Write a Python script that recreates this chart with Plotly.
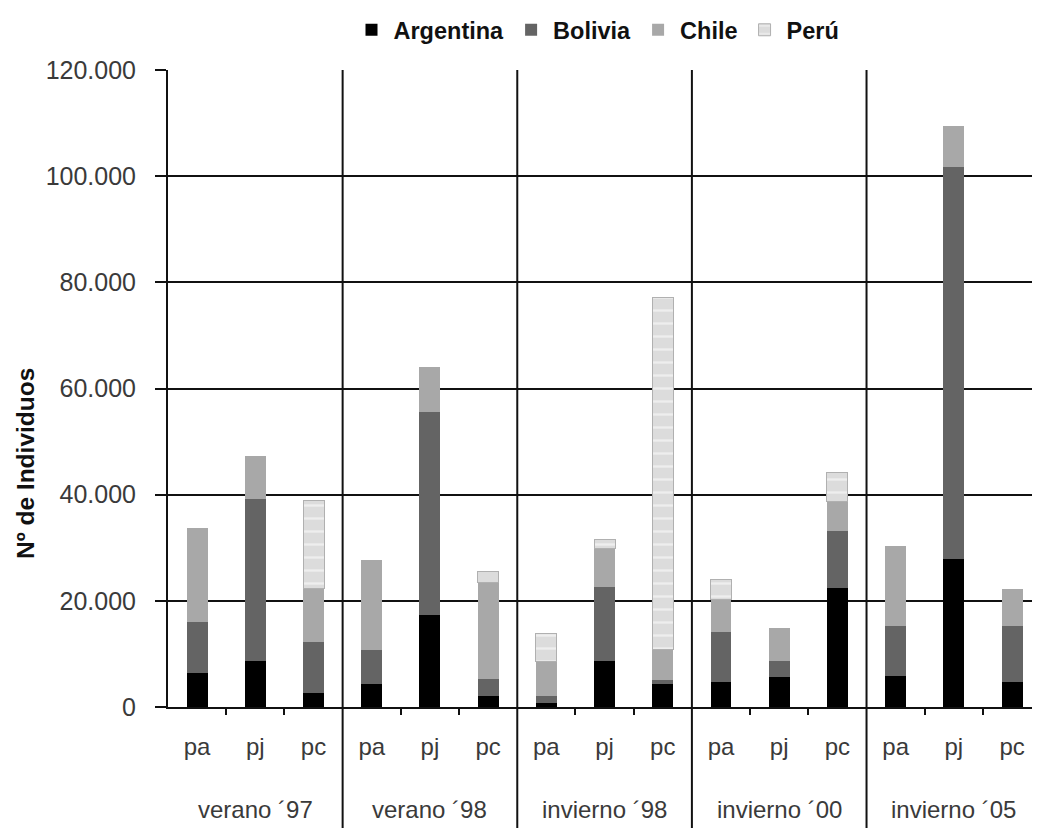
import plotly.graph_objects as go

# ---- data ----
periods = ["verano ´97", "verano ´98", "invierno ´98", "invierno ´00", "invierno ´05"]
sub_labels = ["pa", "pj", "pc"]
categories = [f"{p} {s}" for p in periods for s in sub_labels]

argentina = [6400, 8700, 2700, 4400, 17300, 2000, 800, 8600, 4400, 4700, 5600, 22500, 5800, 27800, 4800]
bolivia = [9700, 30500, 9600, 6300, 38200, 3200, 1300, 14100, 600, 9400, 3000, 10600, 9400, 74000, 10400]
chile = [17700, 8100, 10100, 17000, 8600, 18200, 6500, 7200, 5800, 6200, 6200, 5600, 15100, 7600, 7000]
peru = [None, None, 16500, None, None, 2200, 5300, 1600, 66300, 3800, None, 5400, None, None, None]

y_ticks = [0, 20000, 40000, 60000, 80000, 100000, 120000]

xs = list(range(len(categories)))
FONT = "Liberation Sans, Arial, sans-serif"
TXT = "#3a3a3a"

# page has an 8px body margin; figure is sized/positioned to compensate
W, H = 1032, 820
ML, MT, PH = 160, 62, 637
MB = H - MT - PH
PW = W - ML

fig = go.Figure()
fig.add_bar(x=xs, y=argentina, name="Argentina", marker=dict(color="#000000", line=dict(width=0)))
fig.add_bar(x=xs, y=bolivia, name="Bolivia", marker=dict(color="#646464", line=dict(width=0)))
fig.add_bar(x=xs, y=chile, name="Chile", marker=dict(color="#a8a8a8", line=dict(width=0)))
fig.add_bar(x=xs, y=peru, name="Perú",
            marker=dict(color="#dcdcdc", line=dict(width=1, color="#b0b0b0"),
                        pattern=dict(shape="-", fgcolor="#ffffff", bgcolor="#dcdcdc",
                                     size=13, solidity=0.18)))

# group separators
for i in range(1, len(periods)):
    xb = i * 3 - 0.5
    fig.add_shape(type="line", xref="x", yref="paper", x0=xb, x1=xb, y0=-MB / PH, y1=1,
                  line=dict(color="#111111", width=2), layer="above")

# group labels
for i, p in enumerate(periods):
    fig.add_annotation(x=i * 3 + 1, xref="x", y=-(809 - 8 - (MT + PH)) / PH, yref="paper",
                       text=p, showarrow=False, yanchor="middle",
                       font=dict(family=FONT, size=24, color=TXT))

# y-axis title
fig.add_annotation(x=(25 - 8 - ML) / PW, xref="paper", y=((MT + PH) - (464 - 8)) / PH, yref="paper",
                   text="Nº de Individuos", showarrow=False, textangle=-90,
                   xanchor="center", yanchor="middle",
                   font=dict(family=FONT, size=24.5, color="#111111", weight="bold"))

fig.update_layout(
    width=W, height=H,
    margin=dict(l=ML, r=0, t=MT, b=MB),
    barmode="stack", bargap=0.64,
    plot_bgcolor="white", paper_bgcolor="white",
    separators=",.",
    font=dict(family=FONT, color=TXT),
    legend=dict(orientation="h", x=(597 - 8) / W, xanchor="center", xref="container",
                y=(H - (30 - 8)) / H, yref="container", yanchor="middle", traceorder="normal",
                font=dict(family=FONT, size=23.5, color="#111111", weight="bold"),
                itemwidth=34),
    xaxis=dict(range=[-0.5, 14.48], tickmode="array", tickvals=xs,
               ticktext=sub_labels * len(periods),
               ticks="outside", ticklen=17, tickcolor="rgba(0,0,0,0)",
               tickfont=dict(family=FONT, size=24, color=TXT),
               showline=True, linecolor="#111111", linewidth=2,
               showgrid=False, zeroline=False,
               minor=dict(tickmode="array", tickvals=[i + 0.5 for i in range(14) if (i + 1) % 3 != 0],
                          ticks="outside", ticklen=6, tickcolor="#111111", tickwidth=2)),
    yaxis=dict(range=[0, 120000], tickmode="array", tickvals=y_ticks, tickformat=",d",
               ticks="outside", ticklen=11, tickcolor="#111111", tickwidth=2,
               ticklabelstandoff=14,
               tickfont=dict(family=FONT, size=25, color=TXT),
               showline=True, linecolor="#111111", linewidth=2,
               showgrid=True, gridcolor="#111111", gridwidth=2, zeroline=False),
)

fig.write_html("out.html")
